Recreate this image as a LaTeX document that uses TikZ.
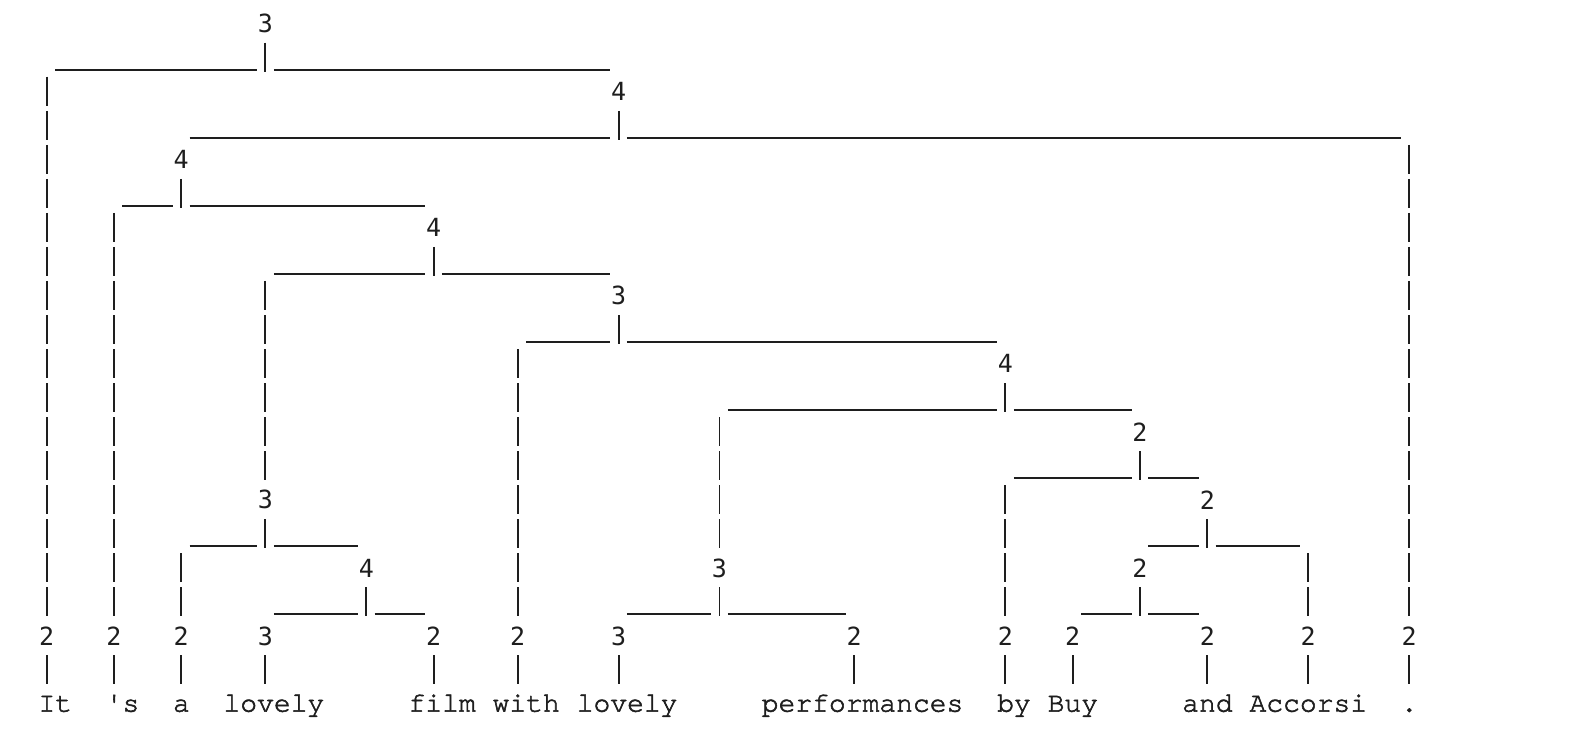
\documentclass[tikz,border=0pt]{standalone}
\usepackage{fontspec}
\newfontfamily\digitfont{DejaVu Sans Mono}
\newfontfamily\wordfont{texgyrecursor-regular.otf}[FakeBold=2,Ligatures=NoCommon]
\usetikzlibrary{calc}
\definecolor{ink}{RGB}{30,30,30}
\tikzset{
  lab/.style={font=\digitfont\fontsize{25}{30}\selectfont,text=ink,inner sep=0pt},
  wrd/.style={font=\wordfont\bfseries\fontsize{28}{34}\selectfont,text=ink,inner sep=0pt,
    anchor=west,text height=15pt,text depth=0pt},
  pipe/.style={draw=ink,line width=1.9pt,dash pattern=on 28.94pt off 5.1pt},
  bar/.style={draw=ink,line width=1.9pt}
}
\begin{document}
\begin{tikzpicture}[x=16.82pt,y=-34.04pt]
\useasboundingbox (-2.7765,-0.6845) rectangle (91.873,20.996);
% inner labels
\node[lab] (root) at (13,0) {3};
\node[lab] (n4a) at (34,2) {4};
\node[lab] (n4b) at (8,4) {4};
\node[lab] (n4c) at (23,6) {4};
\node[lab] (n3b) at (34,8) {3};
\node[lab] (n4e) at (57,10) {4};
\node[lab] (n2a) at (65,12) {2};
\node[lab] (n3a) at (13,14) {3};
\node[lab] (n2b) at (69,14) {2};
\node[lab] (n4d) at (19,16) {4};
\node[lab] (n3c) at (40,16) {3};
\node[lab] (n2c) at (65,16) {2};
% preterminals and words
\foreach \n/\c/\t in {pIt/0/2,pS/4/2,pA/8/2,pLov/13/3,pFilm/23/2,pWith/28/2,pLovb/34/3,
  pPerf/48/2,pBy/57/2,pBuy/61/2,pAnd/69/2,pAcc/75/2,pDot/81/2}
  \node[lab] (\n) at (\c,18) {\t};
\foreach \n/\c/\t in {wIt/0/It,wS/4/{\textquotesingle s},wA/8/a,wLov/11/lovely,wFilm/22/film,
  wWith/27/with,wLovb/32/lovely,wPerf/43/performances,wBy/57/by,wBuy/60/Buy,wAnd/68/and,
  wAcc/72/Accorsi,wDot/81/.}
  \node[wrd] (\n) at (\c-0.5,20) {\t};

% stems and bars
\foreach \p/\f/\l in {root/pIt/n4a,n4a/n4b/pDot,n4b/pS/n4c,n4c/n3a/n3b,n3a/pA/n4d,
  n4d/pLov/pFilm,n3b/pWith/n4e,n4e/n3c/n2a,n3c/pLovb/pPerf,n2a/pBy/n2b,n2b/n2c/pAcc,
  n2c/pBuy/pAnd}{
  \draw[pipe] ($(\p)+(0,0.57)$) -- ($(\p)+(0,1.42)$);
  \draw[bar] ($(\f |- \p)+(0.5,1.36)$) -- ($(\p)+(-0.5,1.36)$)
             ($(\p)+(0.5,1.36)$) -- ($(\l |- \p)+(-0.5,1.36)$);
}
% long drops to lower children
\foreach \p/\c in {root/pIt,n4a/pDot,n4b/pS,n4c/n3a,n3a/pA,n3b/pWith,n4e/n3c,n2a/pBy,n2b/pAcc}
  \draw[pipe] ($(\c |- \p)+(0,1.57)$) -- ($(\c)+(0,-0.58)$);
% preterminal to word
\foreach \n/\w in {pIt/wIt,pS/wS,pA/wA,pLov/wLov,pFilm/wFilm,pWith/wWith,pLovb/wLovb,
  pPerf/wPerf,pBy/wBy,pBuy/wBuy,pAnd/wAnd,pAcc/wAcc,pDot/wDot}
  \draw[pipe] ($(\n)+(0,0.57)$) -- ($(\n |- \w)+(0,-0.58)$);
\end{tikzpicture}
\end{document}
